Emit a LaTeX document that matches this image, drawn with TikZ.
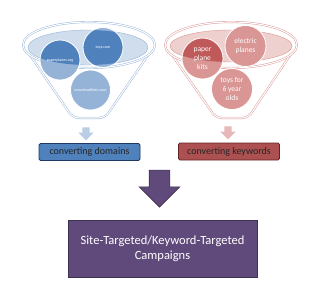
\documentclass[tikz,border=0pt]{standalone}
\usepackage{fontspec}
\setmainfont{Carlito}
\usetikzlibrary{shapes.arrows}

\definecolor{domdark}{HTML}{4F81BD}
\definecolor{domlight}{HTML}{95B3D7}
\definecolor{domarrow}{HTML}{B9CDE5}
\definecolor{domedge}{HTML}{1F3864}
\definecolor{keydark}{HTML}{C0595A}
\definecolor{keylight}{HTML}{D99694}
\definecolor{keyarrow}{HTML}{E6B9B8}
\definecolor{keyedge}{HTML}{632523}
\definecolor{campfill}{HTML}{604A7B}
\definecolor{campedge}{HTML}{3F3151}

\begin{document}
\begin{tikzpicture}[
  x=1pt, y=-1pt,
  funnel/.style={fill=white, draw=#1, double=white, double distance=1.1pt, line width=0.45pt},
  rim/.style={fill=#1!45, draw=#1},
  site/.style={circle, minimum size=40pt, inner sep=0pt, fill=domlight, draw=white,
    line width=0.8pt, text=white, font=\fontsize{4}{5}\selectfont},
  term/.style={circle, minimum size=41pt, inner sep=0pt, fill=keylight, draw=white,
    line width=0.8pt, text=white, align=center, font=\fontsize{7.5}{8.8}\selectfont},
  drop/.style={single arrow, shape border rotate=270, fill=#1, draw=none, inner sep=3.5pt,
    minimum height=13pt, single arrow head extend=4pt, single arrow head indent=0pt},
  result/.style={draw=#1, line width=0.8pt, rounded corners=1.5pt, minimum height=17pt,
    minimum width=101pt, text=black!85, font=\fontsize{10}{12}\selectfont}
]
\useasboundingbox (0,0) rectangle (320,290);

% --- left funnel: domains ---
\coordinate (lrim) at (88,47.5);
\draw[funnel=domlight, rounded corners=6pt] (23,45) -- (73,118) -- (105,118) -- (155,45) -- cycle;
\draw[funnel=domlight] (89,45) ellipse [x radius=66, y radius=23];
\draw[rim=domlight] (lrim) ellipse [x radius=60, y radius=17.5];

\node[site, path picture={\fill[domdark] (lrim) ellipse [x radius=60, y radius=17.5];}]
  (paper) at (60,60) {paperplanes.org};
\node[site, path picture={\fill[domdark] (lrim) ellipse [x radius=60, y radius=17.5];}]
  (toys) at (103,47.5) {toys.com};
\node[site] (news) at (90.5,90) {newsheadlines.com};

\node[drop=domarrow] (ldrop) at (86,132) {};
\node[result=domedge, fill=domdark] (domains) at (89.5,152) {converting domains};

% --- right funnel: keywords ---
\coordinate (rrim) at (231,46);
\draw[funnel=keylight, rounded corners=6pt] (165,45) -- (216,118) -- (248,118) -- (297,45) -- cycle;
\draw[funnel=keylight] (231,45) ellipse [x radius=66, y radius=23];
\draw[rim=keylight] (rrim) ellipse [x radius=61, y radius=16];

\node[term, path picture={\fill[keydark] (rrim) ellipse [x radius=61, y radius=16];}]
  (kits) at (202.5,58.5) {paper\\plane\\kits};
\node[term] (electric) at (245.5,46) {electric\\planes};
\node[term] (sixyear) at (232,89) {toys for\\6 year\\olds};

\node[drop=keyarrow] (rdrop) at (228,131) {};
\node[result=keyedge, fill=keydark!90!black] (keywords) at (229,151.5) {converting keywords};

% --- both feed the campaigns ---
\node[single arrow, shape border rotate=270, fill=campfill, draw=campedge, line width=0.6pt,
  inner sep=10pt, minimum height=37pt, single arrow head extend=10pt,
  single arrow head indent=0pt] (merge) at (159.5,183.5) {};
\node[draw=campedge, fill=campfill, line width=0.8pt, minimum width=189pt, minimum height=57pt,
  text=white, align=center, font=\fontsize{12.5}{15}\selectfont] (campaigns) at (162.5,248.5)
  {Site-Targeted/Keyword-Targeted\\Campaigns};

\end{tikzpicture}
\end{document}
